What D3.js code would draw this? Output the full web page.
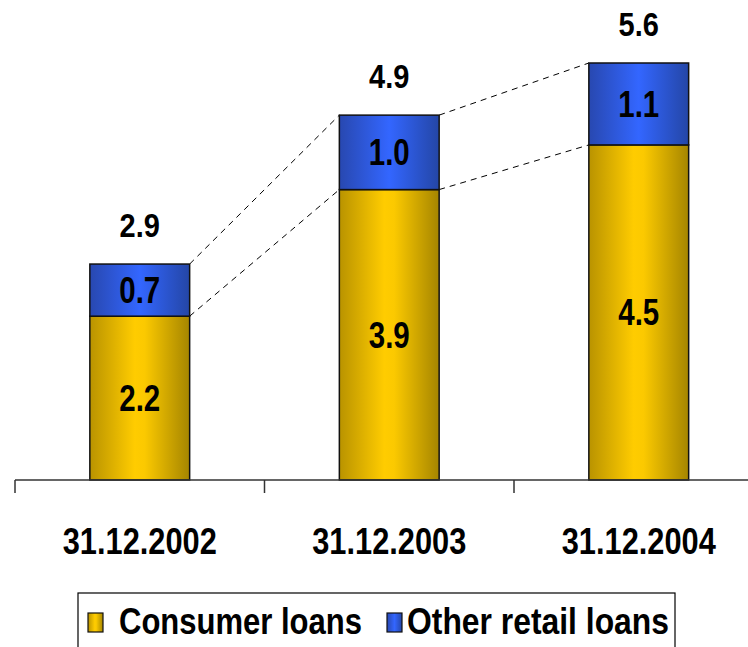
<!DOCTYPE html>
<html>
<head>
<meta charset="utf-8">
<script src="https://cdn.jsdelivr.net/npm/d3@7"></script>
<style>
  html, body { margin: 0; padding: 0; background: #fff; }
  svg { display: block; }
  text { font-family: "Liberation Sans", Arial, sans-serif; font-weight: bold; fill: #000; }
</style>
</head>
<body>
<svg id="chart" width="748" height="647"></svg>
<script>
// Retail loan portfolio, stacked by loan type
const categories = ["31.12.2002", "31.12.2003", "31.12.2004"];
const consumerLoans = [2.2, 3.9, 4.5];
const otherRetailLoans = [0.7, 1.0, 1.1];
const totals = [2.9, 4.9, 5.6];
const seriesNames = ["Consumer loans", "Other retail loans"];

const svg = d3.select("#chart");
const W = 748, H = 647;

const x = d3.scaleBand()
  .domain(categories)
  .range([15, 763.5])
  .paddingInner(0.6)
  .paddingOuter(0.3);

const y = d3.scaleLinear()
  .domain([0, 5.6])
  .range([480, 63]);

// Gradients giving the bars their cylindrical shading
const defs = svg.append("defs");
function gradient(id, stops) {
  const g = defs.append("linearGradient").attr("id", id)
    .attr("x1", 0).attr("x2", 1).attr("y1", 0).attr("y2", 0);
  stops.forEach(([o, c]) => g.append("stop").attr("offset", o).attr("stop-color", c));
}
gradient("gold", [[0, "#b99300"], [0.45, "#ffcc00"], [0.55, "#fbc900"], [1, "#a58500"]]);
gradient("blue", [[0, "#2848b0"], [0.5, "#3366ff"], [1, "#2446a6"]]);

const rows = categories.map((c, i) => ({
  cat: c,
  consumer: consumerLoans[i],
  other: otherRetailLoans[i],
  total: totals[i]
}));

const stack = d3.stack().keys(["consumer", "other"]);
const stacked = stack(rows);
const fills = ["url(#gold)", "url(#blue)"];

// Dashed connector lines between neighbouring bars
const connectors = svg.append("g")
  .attr("stroke", "#000").attr("stroke-width", 1)
  .attr("stroke-dasharray", "6,5").attr("fill", "none");
for (let i = 0; i < rows.length - 1; i++) {
  const x1 = x(rows[i].cat) + x.bandwidth();
  const x2 = x(rows[i + 1].cat);
  [rows[i].consumer, rows[i].total].forEach((v, k) => {
    const v2 = k === 0 ? rows[i + 1].consumer : rows[i + 1].total;
    connectors.append("line")
      .attr("x1", x1).attr("y1", y(v))
      .attr("x2", x2).attr("y2", y(v2));
  });
}

// Bars
stacked.forEach((layer, li) => {
  svg.append("g").selectAll("rect")
    .data(layer)
    .join("rect")
    .attr("x", d => x(d.data.cat))
    .attr("y", d => y(d[1]))
    .attr("width", x.bandwidth())
    .attr("height", d => y(d[0]) - y(d[1]))
    .attr("fill", fills[li])
    .attr("stroke", "#111")
    .attr("stroke-width", 1.5);
});

// Stretched text helper (labels are drawn taller than wide)
function label(g, tx, ty, str, size, sy, anchor) {
  return g.append("text")
    .attr("transform", `translate(${tx},${ty}) scale(1,${sy})`)
    .attr("text-anchor", anchor || "middle")
    .attr("font-size", size)
    .text(str);
}

// Segment value labels
const segLabels = svg.append("g");
stacked.forEach(layer => {
  layer.forEach(d => {
    const v = d[1] - d[0];
    const cy = (y(d[0]) + y(d[1])) / 2;
    label(segLabels, x(d.data.cat) + x.bandwidth() / 2, cy + 13, v.toFixed(1), 29.5, 1.27);
  });
});

// Totals above the bars
rows.forEach(r => {
  label(segLabels, x(r.cat) + x.bandwidth() / 2, y(r.total) - 27, r.total.toFixed(1), 29, 1.15);
});

// Category axis with ticks at the band boundaries
const step = x.step();
const axis = svg.append("g").attr("stroke", "#333").attr("stroke-width", 1.5);
axis.append("line").attr("x1", 15).attr("x2", W).attr("y1", 480).attr("y2", 480);
categories.forEach(c => {
  const tx = x(c) - (step - x.bandwidth()) / 2;
  axis.append("line").attr("x1", tx).attr("x2", tx).attr("y1", 480).attr("y2", 493);
});
categories.forEach(c => {
  label(svg, x(c) + x.bandwidth() / 2, 554, c, 30.8, 1.2);
});

// Legend
const legend = svg.append("g");
legend.append("rect")
  .attr("x", 78).attr("y", 593).attr("width", 597).attr("height", 70)
  .attr("fill", "#fff").attr("stroke", "#000").attr("stroke-width", 1.2);
const legendItems = [
  { name: seriesNames[0], fill: fills[0], sx: 88, tx: 119, w: 243 },
  { name: seriesNames[1], fill: fills[1], sx: 387, tx: 407, w: 262 }
];
legendItems.forEach(it => {
  legend.append("rect")
    .attr("x", it.sx).attr("y", 613).attr("width", 15).attr("height", 19)
    .attr("fill", it.fill).attr("stroke", "#111").attr("stroke-width", 1.2);
  label(legend, it.tx, 634, it.name, 31, 1.18, "start")
    .attr("textLength", it.w)
    .attr("lengthAdjust", "spacingAndGlyphs");
});
</script>
</body>
</html>
